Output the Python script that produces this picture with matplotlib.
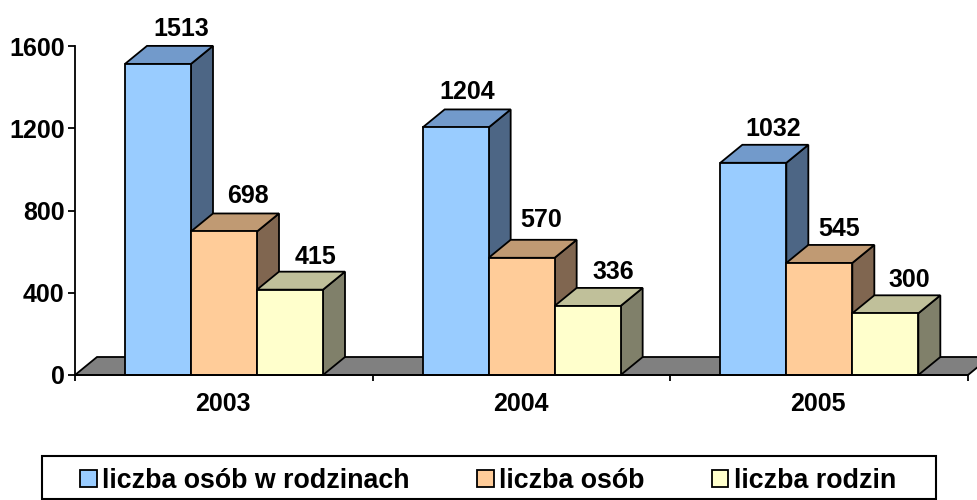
import matplotlib
matplotlib.use("Agg")
import matplotlib.pyplot as plt
from matplotlib.patches import Polygon, Rectangle

years = ["2003", "2004", "2005"]
series_names = ["liczba osób w rodzinach", "liczba osób", "liczba rodzin"]
osob_w_rodzinach = [1513, 1204, 1032]
osob = [698, 570, 545]
rodzin = [415, 336, 300]
y_ticks = [0, 400, 800, 1200, 1600]

front = ["#99CCFF", "#FFCC99", "#FFFFCC"]
top = ["#729ACB", "#C09A73", "#C0C09A"]
side = ["#4D6685", "#806650", "#80806A"]
series = [osob_w_rodzinach, osob, rodzin]

# small label nudges in pixels (series, category)
label_dx = [[1, -10, -2], [2, -2, -2], [4, 4, 2]]
label_dy = [[19, 19.5, 18], [20, 22, 18.5], [17.5, 18.5, 17.5]]

plt.rcParams["font.family"] = ["Liberation Sans", "DejaVu Sans"]
W, H = 978, 500
PX = 72 / 100
LW = 1.3
FS = 18
fig = plt.figure(figsize=(W / 100, H / 100), dpi=100)
ax = fig.add_axes([75 / W, (H - 375) / H, 893 / W, 329 / H])
ax.set_xlim(0, 3)
ax.set_ylim(0, 1600)
ax.patch.set_visible(False)

bar_w = 66 / 297.67
start = 50 / 297.67
dx = 22 / 297.67
dy = 18 * 1600 / 329

# floor
ax.add_patch(Polygon([(0, 0), (dx, dy), (3 + dx, dy), (3, 0)], closed=True, fc="#808080",
                     ec="black", lw=LW, clip_on=False, zorder=1))

for c in range(len(years)):
    for s in range(len(series)):
        v = series[s][c]
        x0 = c + start + s * bar_w
        x1 = x0 + bar_w
        z = 2 + c * 3 + s
        ax.add_patch(Polygon([(x1, 0), (x1 + dx, dy), (x1 + dx, v + dy), (x1, v)], closed=True,
                             fc=side[s], ec="black", lw=LW, clip_on=False, zorder=z))
        ax.add_patch(Polygon([(x0, v), (x0 + dx, v + dy), (x1 + dx, v + dy), (x1, v)], closed=True,
                             fc=top[s], ec="black", lw=LW, clip_on=False, zorder=z))
        ax.add_patch(Rectangle((x0, 0), bar_w, v, fc=front[s], ec="black", lw=LW,
                               clip_on=False, zorder=z))
        ax.annotate(str(v), (x0 + bar_w / 2 + dx, v + dy),
                    xytext=(label_dx[s][c] * PX, label_dy[s][c] * PX),
                    textcoords="offset points", ha="center", va="center_baseline",
                    fontsize=FS, fontweight="bold", zorder=30, annotation_clip=False)

for sp in ["top", "right"]:
    ax.spines[sp].set_visible(False)
for sp in ["left", "bottom"]:
    ax.spines[sp].set_linewidth(LW)
    ax.spines[sp].set_zorder(40)
ax.set_yticks(y_ticks)
ax.set_xticks([0, 1, 2, 3])
ax.set_xticklabels([])
ax.set_xticks([0.497, 1.497, 2.497], labels=years, minor=True)
ax.tick_params(axis="x", which="minor", length=0, pad=12, labelsize=FS)
ax.tick_params(axis="x", which="major", direction="out", length=4.5, width=LW)
ax.tick_params(axis="y", direction="out", length=5, width=LW, labelsize=FS, pad=2.5)
for t in ax.get_yticklabels() + ax.get_xticklabels(minor=True):
    t.set_fontweight("bold")

# legend frame
fig.add_artist(Rectangle((42 / W, (H - 499) / H), 894 / W, 43 / H, transform=fig.transFigure,
                         fc="white", ec="black", lw=1.5, zorder=1))
# legend
handles = [Rectangle((0, 0), 1, 1, fc=front[i], ec="black", lw=LW) for i in range(3)]
leg = fig.legend(handles, series_names, ncol=3, loc="center left",
                 bbox_to_anchor=(80 / W, (H - 481) / H),
                 prop={"size": 19.3, "weight": "bold"}, frameon=False, borderaxespad=0,
                 borderpad=0, handlelength=0.63, handleheight=0.63, handletextpad=0.2,
                 columnspacing=2.5)
leg.set_zorder(2)

fig.savefig("out.png", dpi=100)
